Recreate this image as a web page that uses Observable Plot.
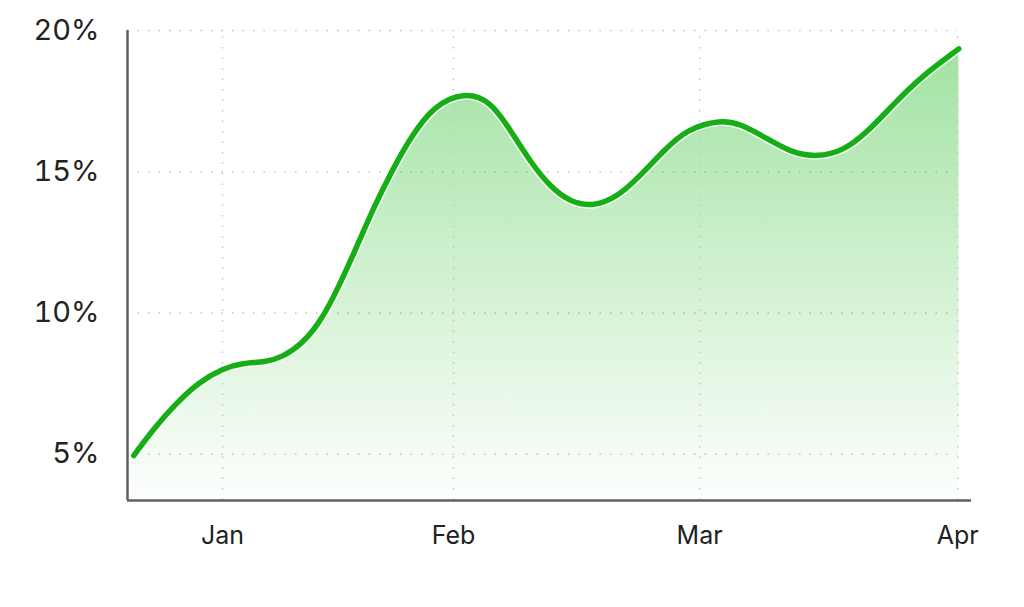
<!DOCTYPE html>
<html>
<head>
<meta charset="utf-8">
<script src="https://cdn.jsdelivr.net/npm/d3@7"></script>
<script src="https://cdn.jsdelivr.net/npm/@observablehq/plot@0.6"></script>
<style>
  html, body { margin: 0; padding: 0; background: #fff; }
  #chart { width: 1024px; height: 607px; }
</style>
</head>
<body>
<div id="chart"></div>
<script>
// Month tick labels and their positions on the x scale
const monthLabels = ["Jan", "Feb", "Mar", "Apr"];
const monthPos = [0, 1, 2.065, 3.182];

// Series: x position (in month units) and rate (%)
const xPos  = [-0.384, -0.304, -0.203, -0.103, 0.003, 0.085, 0.186, 0.258, 0.345, 0.417,
               0.482, 0.568, 0.655, 0.727, 0.814, 0.915, 1.045, 1.160, 1.247, 1.333,
               1.420, 1.506, 1.607, 1.709, 1.810, 1.910, 2.012, 2.156, 2.242, 2.358,
               2.459, 2.574, 2.690, 2.791, 2.906, 3.022, 3.187];
const rates = [4.95, 5.84, 6.78, 7.55, 8.04, 8.23, 8.26, 8.43, 8.91, 9.62,
               10.56, 12.09, 13.74, 14.93, 16.22, 17.34, 17.82, 17.52, 16.46, 15.34,
               14.45, 13.92, 13.77, 14.10, 14.87, 15.75, 16.52, 16.84, 16.70, 16.17,
               15.69, 15.51, 15.75, 16.40, 17.40, 18.35, 19.35];

// Y tick values
const yTicks = [5, 10, 15, 20];

const xDomain = [-0.411, 3.242];
const yDomain = [3.36, 20];

const data = xPos.map((x, i) => ({x, v: rates[i]}));

const gradientDefs = () => {
  const defs = d3.create("svg:defs");
  const g = defs.append("linearGradient")
    .attr("id", "areaGrad")
    .attr("x1", 0).attr("x2", 0).attr("y1", 0).attr("y2", 1)
    .attr("gradientUnits", "objectBoundingBox");
  g.append("stop").attr("offset", "0%").attr("stop-color", "#2fbf2f").attr("stop-opacity", 0.45);
  g.append("stop").attr("offset", "55%").attr("stop-color", "#2fbf2f").attr("stop-opacity", 0.2);
  g.append("stop").attr("offset", "100%").attr("stop-color", "#2fbf2f").attr("stop-opacity", 0.01);
  return defs.node();
};

const gridStyle = {stroke: "#c4c4c4", strokeWidth: 1.5, strokeDasharray: "1.5,9"};
const curve = "basis";

const chart = Plot.plot({
  width: 1024,
  height: 607,
  marginLeft: 127,
  marginRight: 53,
  marginTop: 30,
  marginBottom: 107,
  style: {fontFamily: "Inter, sans-serif", color: "#222", background: "#fff"},
  x: {domain: xDomain, axis: null},
  y: {domain: yDomain, axis: null},
  marks: [
    gradientDefs,
    Plot.ruleY(yTicks, {y: d => d, x1: xDomain[0], x2: monthPos[3], ...gridStyle}),
    Plot.areaY(data, {x: "x", y1: yDomain[0], y2: "v", curve, fill: "url(#areaGrad)"}),
    Plot.ruleX(monthPos, {x: d => d, y1: yDomain[0], y2: yDomain[1], ...gridStyle}),
    Plot.line(data, {x: "x", y: "v", curve, stroke: "#ffffff", strokeOpacity: 0.8, strokeWidth: 8.5}),
    Plot.line(data, {x: "x", y: "v", curve, stroke: "#16ad16", strokeWidth: 5.5, strokeLinecap: "round"}),
    Plot.ruleX([xDomain[0]], {y1: yDomain[0], y2: yDomain[1], stroke: "#5c6068", strokeWidth: 2.5}),
    Plot.ruleY([yDomain[0]], {x1: xDomain[0], x2: xDomain[1], stroke: "#5c6068", strokeWidth: 2.5}),
    Plot.axisY({ticks: yTicks, tickFormat: d => d + "%", tickSize: 0, tickPadding: 28, fontSize: 29, fill: "#222", label: null}),
    Plot.axisX({ticks: monthPos, tickFormat: (d, i) => monthLabels[i], tickSize: 0, tickPadding: 26, fontSize: 25, fill: "#222", label: null})
  ]
});

document.getElementById("chart").appendChild(chart);
</script>
</body>
</html>
